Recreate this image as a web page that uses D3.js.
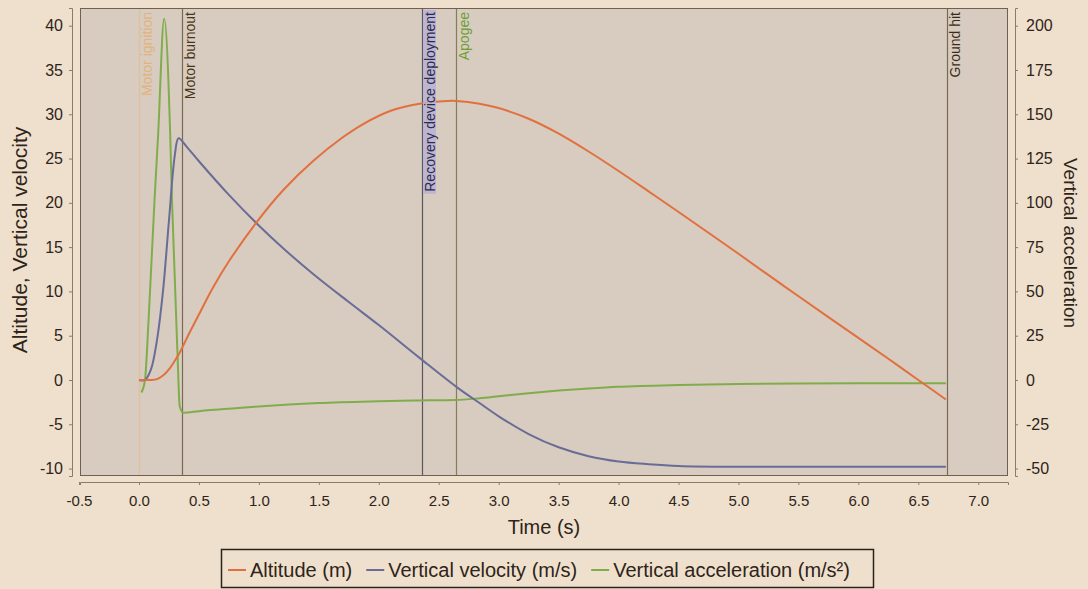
<!DOCTYPE html>
<html><head><meta charset="utf-8">
<script src="https://cdn.jsdelivr.net/npm/d3@7"></script>
<style>
body{margin:0;background:#eee0cd;}
svg{display:block;font-family:"Liberation Sans",Arial,sans-serif;}
</style>
</head><body>
<svg id="c" width="1088" height="589"></svg>
<script>
// ---- data ----
const altTime = [0, 0.05, 0.1, 0.15, 0.2, 0.25, 0.3, 0.34, 0.42, 0.5, 0.62, 0.75, 0.98, 1.2, 1.45, 1.7, 1.87, 2.1, 2.34, 2.57, 2.65, 2.84, 3.0, 3.25, 3.49, 3.75, 4.0, 4.25, 4.54, 5.0, 5.38, 5.75, 6.0, 6.25, 6.5, 6.73];
const altValue = [0, 0, 0, 0.1, 0.5, 1.2, 2.2, 3.1, 5.3, 7.4, 10.5, 13.4, 17.8, 21.4, 24.7, 27.4, 28.9, 30.4, 31.2, 31.5, 31.5, 31.2, 30.7, 29.5, 27.9, 25.8, 23.6, 21.3, 18.6, 14.25, 10.6, 7.1, 4.75, 2.4, 0, -2.2];

const velTime = [0, 0.05, 0.1, 0.15, 0.2, 0.25, 0.3, 0.33, 0.4, 0.5, 0.75, 0.98, 1.2, 1.45, 1.75, 2.0, 2.34, 2.65, 2.84, 3.0, 3.25, 3.5, 3.75, 4.0, 4.25, 4.5, 5.0, 5.5, 6.0, 6.73];
const velValue = [0, 0, 1.2, 4.5, 10, 18, 25.5, 27.3, 26.3, 24.7, 20.9, 17.7, 14.9, 12.0, 8.8, 6.2, 2.5, -0.8, -2.6, -4.1, -6.1, -7.6, -8.6, -9.2, -9.5, -9.7, -9.8, -9.8, -9.8, -9.8];

const accTime = [0.02, 0.05, 0.08, 0.13, 0.16, 0.21, 0.26, 0.275, 0.32, 0.34, 0.37, 0.5, 0.75, 1.0, 1.25, 1.5, 2.0, 2.29, 2.64, 2.84, 3.0, 3.25, 3.5, 3.75, 4.0, 4.5, 5.0, 5.5, 6.0, 6.73];
const accValue = [-7, 0, 34, 102, 139, 204, 139, 102, 17, -15, -18.5, -17.6, -16.2, -15, -13.9, -13, -12, -11.6, -11.3, -10.3, -9.2, -7.5, -6, -4.8, -3.8, -2.8, -2.3, -2, -1.9, -1.8];

const eventNames = ["Motor ignition", "Motor burnout", "Recovery device deployment", "Apogee", "Ground hit"];
const eventTimes = [0, 0.36, 2.36, 2.64, 6.74];

const xTickValues = [-0.5, 0, 0.5, 1, 1.5, 2, 2.5, 3, 3.5, 4, 4.5, 5, 5.5, 6, 6.5, 7];
const leftTickValues = [-10, -5, 0, 5, 10, 15, 20, 25, 30, 35, 40];
const rightTickValues = [-50, -25, 0, 25, 50, 75, 100, 125, 150, 175, 200];

const seriesNames = ["Altitude (m)", "Vertical velocity (m/s)", "Vertical acceleration (m/s\u00B2)"];

// ---- layout / style ----
const X0 = 80, X1 = 1008, Y0 = 8, Y1 = 476;
const colAlt = "#e2703f", colVel = "#6a6c98", colAcc = "#80ad4c";
const eventColors = ["#e9b475", "#6e5f4b", "#4d4a58", "#7a7652", "#6e5f4b"];
const eventTextColors = ["#e6ad6c", "#4a3516", "#2c2a4e", "#6f9f35", "#3a2a1a"];

const svg = d3.select("#c");
const x = d3.scaleLinear().domain([-0.492, 7.248]).range([X0, X1]);
const yL = d3.scaleLinear().domain([-10.84, 42.0]).range([Y1, Y0]);
const yR = d3.scaleLinear().domain([-54.2, 210]).range([Y1, Y0]);

// plot background
svg.append("rect").attr("x", X0).attr("y", Y0).attr("width", X1 - X0).attr("height", Y1 - Y0)
  .attr("fill", "#d7ccbf");

svg.append("clipPath").attr("id", "clip").append("rect")
  .attr("x", X0).attr("y", Y0).attr("width", X1 - X0).attr("height", Y1 - Y0);
const plot = svg.append("g").attr("clip-path", "url(#clip)");

// event markers
eventTimes.forEach((t, i) => {
  const ex = Math.round(x(t)) + 0.5;
  plot.append("line").attr("x1", ex).attr("x2", ex).attr("y1", Y0).attr("y2", Y1)
    .attr("stroke", eventColors[i]).attr("stroke-width", 1.2)
    .attr("opacity", i === 0 ? 0.5 : 0.9);
});

// series lines
const mk = (ts, vs, ys, curve) => d3.line().curve(curve)
  .x((d, i) => x(ts[i])).y((d, i) => ys(vs[i]))(vs);
plot.append("path").attr("d", mk(accTime, accValue, yR, d3.curveMonotoneX)).attr("fill", "none")
  .attr("stroke", colAcc).attr("stroke-width", 2);
plot.append("path").attr("d", mk(velTime, velValue, yL, d3.curveCatmullRom.alpha(0.5))).attr("fill", "none")
  .attr("stroke", colVel).attr("stroke-width", 2);
plot.append("path").attr("d", mk(altTime, altValue, yL, d3.curveCatmullRom.alpha(0.5))).attr("fill", "none")
  .attr("stroke", colAlt).attr("stroke-width", 2);

// event labels
eventTimes.forEach((t, i) => {
  const ex = Math.round(x(t));
  const g = plot.append("g").attr("transform", `translate(${ex + 13},${Y0 + 4}) rotate(-90)`);
  const txt = g.append("text").attr("text-anchor", "end").attr("font-size", 14)
    .attr("fill", eventTextColors[i]).attr("opacity", i === 0 ? 0.8 : 1).text(eventNames[i]);
  if (i === 2) {
    const len = txt.node().getComputedTextLength();
    g.insert("rect", "text").attr("x", -len - 2).attr("y", -12).attr("width", len + 4).attr("height", 13)
      .attr("fill", "#b9b2d4").attr("opacity", 0.85);
  }
});

// plot border
svg.append("rect").attr("x", X0 + 0.5).attr("y", Y0 + 0.5).attr("width", X1 - X0 - 1).attr("height", Y1 - Y0 - 1)
  .attr("fill", "none").attr("stroke", "#6f604f").attr("stroke-width", 1);

const tickColor = "#8a7c6a", labelColor = "#2e2419";
const fmtX = v => v.toFixed(1);
const fmtY = v => String(v);

// bottom axis
const xAxis = svg.append("g").attr("transform", `translate(0,${Y1 + 6})`)
  .call(d3.axisBottom(x).tickValues(xTickValues).tickFormat(fmtX).tickSize(3).tickPadding(10));
// left axis
const lAxis = svg.append("g").attr("transform", `translate(${X0 - 8},0)`)
  .call(d3.axisLeft(yL).tickValues(leftTickValues).tickFormat(fmtY).tickSize(3).tickPadding(6));
// right axis
const rAxis = svg.append("g").attr("transform", `translate(${X1 + 7},0)`)
  .call(d3.axisRight(yR).tickValues(rightTickValues).tickFormat(fmtY).tickSize(3).tickPadding(8));
[xAxis, lAxis, rAxis].forEach(a => {
  a.selectAll("path.domain").attr("stroke", tickColor);
  a.selectAll(".tick line").attr("stroke", tickColor);
  a.selectAll(".tick text").attr("fill", labelColor).attr("font-size", 16)
    .attr("font-family", "Liberation Sans, Arial, sans-serif");
});
xAxis.selectAll(".tick text").attr("font-size", 15);

// axis titles
svg.append("text").attr("x", (X0 + X1) / 2).attr("y", 534).attr("text-anchor", "middle")
  .attr("font-size", 20).attr("fill", labelColor).text("Time (s)");
svg.append("text").attr("transform", "translate(27,240) rotate(-90)").attr("text-anchor", "middle")
  .attr("font-size", 21).attr("fill", labelColor).text("Altitude, Vertical velocity");
svg.append("text").attr("transform", "translate(1064,243) rotate(90)").attr("text-anchor", "middle")
  .attr("font-size", 19).attr("fill", labelColor).text("Vertical acceleration");

// legend
const lg = svg.append("g");
lg.append("rect").attr("x", 221.5).attr("y", 549.5).attr("width", 652).attr("height", 38)
  .attr("fill", "none").attr("stroke", "#2b2218").attr("stroke-width", 1.5);
const colors = [colAlt, colVel, colAcc];
let lx = 228;
seriesNames.forEach((name, i) => {
  lg.append("line").attr("x1", lx).attr("x2", lx + 18).attr("y1", 570).attr("y2", 570)
    .attr("stroke", colors[i]).attr("stroke-width", 2);
  const t = lg.append("text").attr("x", lx + 22).attr("y", 577).attr("font-size", 20)
    .attr("fill", labelColor).text(name);
  lx += 22 + t.node().getComputedTextLength() + 14;
});
</script>
</body></html>
